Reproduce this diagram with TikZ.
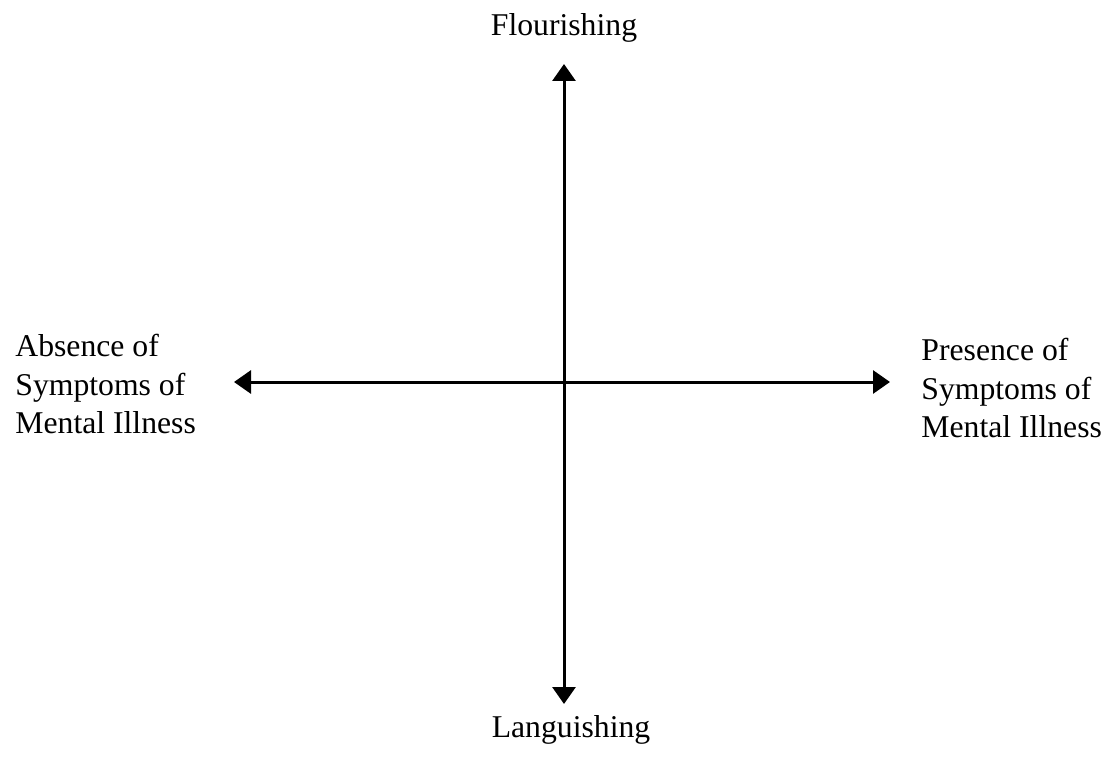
\documentclass[tikz,border=0pt]{standalone}
\usepackage{fontspec}
\setmainfont{Liberation Serif}
\usetikzlibrary{positioning,arrows.meta}

\tikzset{
  axislabel/.style={inner sep=0pt,align=left,font=\fontsize{15.85}{19.3}\selectfont},
  axis/.style={<->,line width=1.5pt}
}

\begin{document}
\begin{tikzpicture}[>={Triangle[length=8.5pt,width=11.5pt]},x=0.5pt,y=-0.5pt]
  \useasboundingbox (0,0) rectangle (1118,759);
  % ends of the two axes
  \coordinate (up) at (564,64);
  \coordinate (down) at (564,704);
  \coordinate (left) at (234,382);
  \coordinate (right) at (890,382);
  \draw[axis] (up) -- (down);
  \draw[axis] (left) -- (right);
  % labels
  \node[axislabel,anchor=base] (flour) at (564,36) {Flourishing};
  \node[axislabel,anchor=base] (lang) at (571,737) {Languishing};
  \node[axislabel,anchor=west] (absence) at (15,384)
    {Absence of\\Symptoms of\\Mental Illness};
  \node[axislabel,anchor=west] (presence) at (921,388)
    {Presence of\\Symptoms of\\Mental Illness};
\end{tikzpicture}
\end{document}
